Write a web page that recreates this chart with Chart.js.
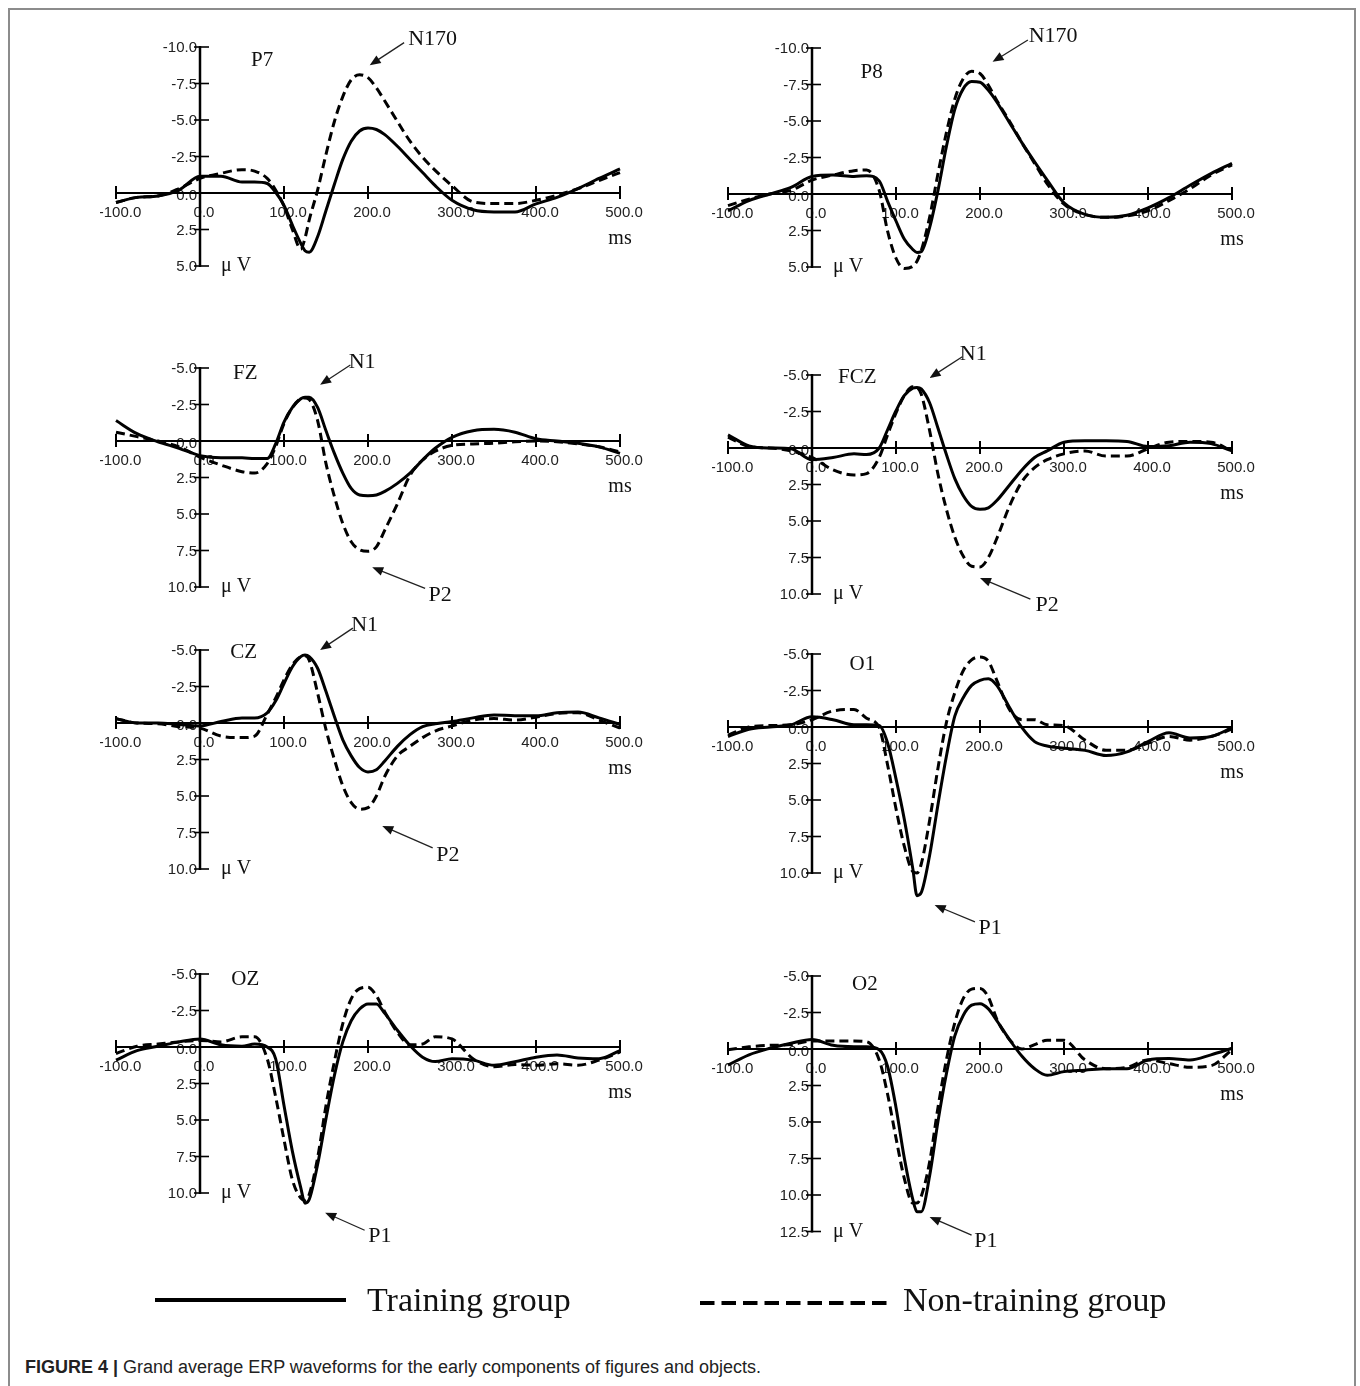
<!DOCTYPE html>
<html>
<head>
<meta charset="utf-8">
<title>Grand average ERP waveforms</title>
<script src="https://cdn.jsdelivr.net/npm/chart.js@4.4.1/dist/chart.umd.min.js"></script>
<style>
  html, body { margin: 0; padding: 0; background: #fff; }
  #page { position: relative; width: 1360px; height: 1386px; overflow: hidden; }
  #frame { position: absolute; left: 8px; top: 8px; width: 1348px; height: 1420px;
           border: 2px solid #8c8c8c; box-sizing: border-box; }
  .panel { position: absolute; }
  #legend { position: absolute; left: 0; top: 1270px; }
  #caption { position: absolute; left: 25px; top: 1357px; white-space: nowrap;
             font: 18px "Liberation Sans", Arial, sans-serif; color: #222; }
  #caption b { font-weight: bold; }
</style>
</head>
<body>
<div id="page">
  <div id="frame"></div>
  <canvas id="legend" width="1360" height="70"></canvas>
  <div id="caption"><b>FIGURE 4 |</b> Grand average ERP waveforms for the early components of figures and objects.</div>
</div>
<script>
/* Grand average ERP waveforms, 8 electrode sites, training vs non-training group.
 */

const TIMES_MS = [-100, -75, -50, -25, 0, 25, 50, 65, 80, 90, 100, 110, 120, 125, 130, 140, 150, 160, 170, 180,
  190, 200, 210, 220, 235, 250, 265, 280, 300, 325, 350, 375, 400, 425, 450, 475, 500];

const X_TICKS_MS = [-100, 0, 100, 200, 300, 400, 500];
const Y_TICK_STEP = 2.5;

const P7_TRAINING = [0.65, 0.3, 0.2, -0.2, -1.15, -1.15, -0.75, -0.75, -0.65, -0.05, 0.85, 2.2, 3.45, 3.95, 4.05, 3.0,
  1.2, -0.6, -2.3, -3.55, -4.25, -4.45, -4.35, -4.0, -3.2, -2.3, -1.4, -0.5, 0.5, 1.15, 1.3, 1.3, 0.75, 0.3, -0.3, -1.0, -1.65];
const P7_NONTRAINING = [0.65, 0.3, 0.2, -0.3, -1.0, -1.35, -1.6, -1.5, -1.0, -0.2, 0.9, 2.5, 3.85, 3.1, 1.85, -0.2,
  -2.65, -4.9, -6.6, -7.75, -8.1, -7.9, -7.2, -6.3, -4.9, -3.55, -2.45, -1.55, -0.5, 0.6, 0.72, 0.72, 0.5, 0.15, -0.3, -0.85, -1.4];

const P8_TRAINING = [1.15, 0.45, 0, -0.45, -1.2, -1.3, -1.2, -1.25, -0.9, 0.5, 1.85, 3.1, 3.8, 4.0, 3.95, 2.3,
  -0.25, -3.25, -5.8, -7.2, -7.7, -7.65, -7.1, -6.3, -4.9, -3.5, -2.2, -0.95, 0.6, 1.4, 1.6, 1.45, 0.95, 0.25, -0.6, -1.4, -2.1];
const P8_NONTRAINING = [0.8, 0.35, 0, -0.25, -0.95, -1.3, -1.6, -1.65, -0.25, 2.55, 4.4, 5.1, 4.95, 4.6, 3.9, 1.6,
  -1.4, -4.2, -6.5, -7.9, -8.4, -8.25, -7.45, -6.4, -5.0, -3.5, -2.1, -0.7, 0.7, 1.4, 1.6, 1.5, 1.15, 0.45, -0.35, -1.3, -2.0];

const FZ_TRAINING = [-1.4, -0.5, 0.05, 0.5, 1.0, 1.15, 1.15, 1.2, 1.2, 0.2, -1.3, -2.3, -2.9, -3.0, -3.0, -2.3,
  -0.7, 0.85, 2.2, 3.25, 3.7, 3.75, 3.7, 3.45, 2.9, 2.2, 1.3, 0.5, -0.25, -0.7, -0.8, -0.6, -0.15, 0, 0.15, 0.4, 0.85];
const FZ_NONTRAINING = [-0.6, -0.3, 0, 0.4, 1.1, 1.65, 2.1, 2.2, 1.55, 0.4, -1.2, -2.3, -2.9, -2.95, -2.85, -1.4,
  1.55, 3.8, 5.65, 6.9, 7.45, 7.55, 7.25, 6.1, 4.3, 2.35, 1.3, 0.7, 0.3, 0.2, 0.15, 0.05, 0, 0.05, 0.2, 0.4, 0.75];

const FCZ_TRAINING = [-0.9, -0.15, 0, 0.05, 0.8, 0.65, 0.4, 0.45, 0, -1.25, -2.55, -3.6, -4.1, -4.15, -4.05, -3.1,
  -1.35, 0.45, 2.1, 3.25, 4.0, 4.2, 4.1, 3.6, 2.55, 1.5, 0.65, 0.2, -0.4, -0.5, -0.5, -0.45, -0.1, -0.15, -0.4, -0.3, 0.2];
const FCZ_NONTRAINING = [-0.75, -0.1, 0, 0.2, 0.65, 1.5, 1.85, 1.75, 0.65, -0.9, -2.4, -3.6, -4.2, -4.15, -3.7, -1.2,
  1.8, 4.2, 6.1, 7.4, 8.1, 8.15, 7.5, 6.2, 4.0, 2.3, 1.35, 0.8, 0.4, 0.2, 0.55, 0.55, 0.05, -0.4, -0.45, -0.4, 0.2];

const CZ_TRAINING = [-0.3, 0, 0, 0.1, 0.2, -0.1, -0.35, -0.35, -0.7, -1.5, -2.7, -3.85, -4.55, -4.65, -4.55, -3.75,
  -2.15, -0.45, 1.15, 2.25, 3.05, 3.35, 3.2, 2.6, 1.6, 0.8, 0.25, 0.05, -0.1, -0.35, -0.55, -0.5, -0.5, -0.7, -0.75, -0.35, 0.1];
const CZ_NONTRAINING = [-0.3, 0, 0.05, 0.25, 0.35, 0.9, 1.0, 0.9, -0.6, -1.7, -2.95, -4.0, -4.55, -4.6, -4.3, -2.05,
  0.45, 2.5, 4.3, 5.45, 5.9, 5.8, 5.0, 3.65, 2.25, 1.6, 1.0, 0.55, 0.2, -0.2, -0.3, -0.2, -0.4, -0.65, -0.7, -0.2, 0.35];

const O1_TRAINING = [0.65, 0.15, 0, -0.15, -0.7, -0.5, -0.15, -0.15, -0.1, 1.1, 3.55, 6.35, 9.7, 11.55, 11.35, 8.8,
  5.3, 2.0, -0.75, -2.0, -2.85, -3.2, -3.3, -2.85, -1.35, 0.05, 1.0, 1.3, 1.45, 1.6, 1.95, 1.7, 1.0, 0.4, 0.75, 0.65, 0.05];
const O1_NONTRAINING = [0.55, 0, -0.1, -0.15, -0.5, -1.1, -1.2, -0.6, 0.05, 2.6, 5.6, 8.2, 9.9, 10.0, 9.4, 6.4,
  2.8, -0.3, -2.35, -3.85, -4.6, -4.8, -4.5, -3.2, -1.2, -0.5, -0.5, -0.15, -0.1, 0.9, 1.6, 1.6, 1.1, 0.65, 0.9, 0.65, 0.15];

const OZ_TRAINING = [0.9, 0.25, -0.05, -0.35, -0.55, -0.15, -0.05, -0.2, 0, 0.8, 4.0, 7.15, 9.65, 10.7, 10.45, 8.05,
  4.9, 1.95, -0.35, -1.8, -2.6, -2.95, -2.95, -2.3, -1.15, -0.1, 0.7, 1.0, 0.8, 0.9, 1.25, 1.0, 0.7, 0.55, 0.75, 0.8, 0.25];
const OZ_NONTRAINING = [0.45, -0.05, -0.2, -0.35, -0.45, -0.35, -0.7, -0.7, 0.8, 3.4, 6.35, 9.1, 10.35, 10.5, 10.1, 7.6,
  4.0, 1.0, -1.6, -3.3, -4.0, -4.1, -3.5, -2.4, -1.0, -0.15, -0.2, -0.7, -0.55, 0.8, 1.35, 1.2, 1.25, 1.15, 1.25, 0.9, 0.35];

const O2_TRAINING = [1.1, 0.4, -0.05, -0.4, -0.65, -0.25, -0.15, -0.15, 0.05, 1.2, 4.0, 7.5, 10.3, 11.15, 11.15, 8.7,
  4.95, 1.7, -0.9, -2.3, -3.0, -3.1, -2.75, -1.95, -0.65, 0.5, 1.35, 1.8, 1.55, 1.45, 1.35, 1.35, 0.75, 0.65, 0.75, 0.4, -0.05];
const O2_NONTRAINING = [0.05, -0.15, -0.25, -0.3, -0.55, -0.55, -0.55, -0.5, 0.75, 3.1, 6.1, 8.9, 10.55, 10.55, 10.1, 7.75,
  4.0, 0.75, -1.8, -3.45, -4.1, -4.15, -3.55, -2.05, -0.65, 0, -0.3, -0.6, -0.6, 0.75, 1.35, 1.25, 0.75, 1.0, 1.25, 1.15, 0.05];

// Component labels with arrows, in data units (ms, µV) of their panel.
const COMPONENT_LABELS = {
  P7:  [{ text: 'N170', at: [277, -10.55], from: [243, -10.3], to: [202, -8.75] }],
  P8:  [{ text: 'N170', at: [287, -10.8], from: [257, -10.55], to: [215, -9.05] }],
  FZ:  [{ text: 'N1', at: [193, -5.4], from: [179, -5.2], to: [143, -3.85] },
        { text: 'P2', at: [286, 10.55], from: [268, 10.1], to: [205, 8.65] }],
  FCZ: [{ text: 'N1', at: [192, -6.45], from: [179, -6.25], to: [140, -4.8] },
        { text: 'P2', at: [280, 10.8], from: [260, 10.35], to: [200, 8.9] }],
  CZ:  [{ text: 'N1', at: [196, -6.7], from: [182, -6.5], to: [143, -5.0] },
        { text: 'P2', at: [295, 9.05], from: [277, 8.55], to: [217, 7.05] }],
  O1:  [{ text: 'P1', at: [212, 13.75], from: [194, 13.35], to: [146, 12.2] }],
  OZ:  [{ text: 'P1', at: [214, 12.95], from: [196, 12.55], to: [149, 11.35] }],
  O2:  [{ text: 'P1', at: [207, 13.15], from: [190, 12.75], to: [140, 11.5] }],
};
// Where the site name sits (ms, µV).
const SITE_LABEL_AT = {
  P7: [74, -9.1], P8: [71, -8.35], FZ: [54, -4.6], FCZ: [54, -4.8],
  CZ: [52, -4.8], O1: [60, -4.3], OZ: [54, -4.6], O2: [63, -4.45],
};

const PANELS = [
  { name: 'P7',  yRange: [-10, 5],   training: P7_TRAINING,  nonTraining: P7_NONTRAINING },
  { name: 'P8',  yRange: [-10, 5],   training: P8_TRAINING,  nonTraining: P8_NONTRAINING },
  { name: 'FZ',  yRange: [-5, 10],   training: FZ_TRAINING,  nonTraining: FZ_NONTRAINING },
  { name: 'FCZ', yRange: [-5, 10],   training: FCZ_TRAINING, nonTraining: FCZ_NONTRAINING },
  { name: 'CZ',  yRange: [-5, 10],   training: CZ_TRAINING,  nonTraining: CZ_NONTRAINING },
  { name: 'O1',  yRange: [-5, 10],   training: O1_TRAINING,  nonTraining: O1_NONTRAINING },
  { name: 'OZ',  yRange: [-5, 10],   training: OZ_TRAINING,  nonTraining: OZ_NONTRAINING },
  { name: 'O2',  yRange: [-5, 12.5], training: O2_TRAINING,  nonTraining: O2_NONTRAINING },
];

// Page layout (pixels)
const COLUMNS = [
  { left: 100, width: 560, xStart: 116, xEnd: 620 },
  { left: 712, width: 560, xStart: 728, xEnd: 1232 },
];
const PANEL_LAYOUT = {
  P7:  { col: 0, top: 15,  height: 290, zeroY: 193 },
  P8:  { col: 1, top: 15,  height: 290, zeroY: 194 },
  FZ:  { col: 0, top: 340, height: 280, zeroY: 441 },
  FCZ: { col: 1, top: 335, height: 295, zeroY: 448 },
  CZ:  { col: 0, top: 605, height: 280, zeroY: 723 },
  O1:  { col: 1, top: 640, height: 310, zeroY: 727 },
  OZ:  { col: 0, top: 955, height: 305, zeroY: 1047 },
  O2:  { col: 1, top: 955, height: 310, zeroY: 1049 },
};
const PX_PER_UV = 14.6;

const TICK_FONT = '15px "Liberation Sans", Arial, sans-serif';
const SERIF = '"Liberation Serif", "Times New Roman", serif';
const INK = '#111';

function drawArrow(ctx, x1, y1, x2, y2) {
  const ang = Math.atan2(y2 - y1, x2 - x1);
  const len = 11, half = 4.5;
  ctx.beginPath();
  ctx.moveTo(x1, y1);
  ctx.lineTo(x2 - Math.cos(ang) * len * 0.8, y2 - Math.sin(ang) * len * 0.8);
  ctx.stroke();
  ctx.beginPath();
  ctx.moveTo(x2, y2);
  ctx.lineTo(x2 - Math.cos(ang) * len + Math.sin(ang) * half, y2 - Math.sin(ang) * len - Math.cos(ang) * half);
  ctx.lineTo(x2 - Math.cos(ang) * len - Math.sin(ang) * half, y2 - Math.sin(ang) * len + Math.cos(ang) * half);
  ctx.closePath();
  ctx.fill();
}

function makeAxesPlugin(panel) {
  return {
    id: 'erpAxes',
    beforeDatasetsDraw(chart) {
      const { ctx, scales: { x, y } } = chart;
      const ax = x.getPixelForValue(0);
      const ay = y.getPixelForValue(0);
      ctx.save();
      // tick labels first, axes drawn over them
      ctx.fillStyle = '#222';
      ctx.font = TICK_FONT;
      ctx.textBaseline = 'middle';
      ctx.textAlign = 'right';
      for (let v = y.min; v <= y.max + 1e-6; v += Y_TICK_STEP) {
        const dy = v === 0 ? 3 : 1;
        ctx.fillText(v.toFixed(1), ax - 3, y.getPixelForValue(v) + dy);
      }
      ctx.textAlign = 'center';
      X_TICKS_MS.forEach((t) => {
        ctx.fillText(t.toFixed(1), x.getPixelForValue(t) + 4, ay + 20);
      });

      ctx.strokeStyle = '#000';
      ctx.lineWidth = 2;
      ctx.beginPath();
      ctx.moveTo(x.getPixelForValue(X_TICKS_MS[0]), ay);
      ctx.lineTo(x.getPixelForValue(X_TICKS_MS[X_TICKS_MS.length - 1]), ay);
      ctx.stroke();
      X_TICKS_MS.forEach((t) => {
        if (t === 0) return;
        const px = x.getPixelForValue(t);
        ctx.beginPath();
        ctx.moveTo(px, ay - 7);
        ctx.lineTo(px, ay + 6);
        ctx.stroke();
      });
      ctx.lineWidth = 2.5;
      ctx.beginPath();
      ctx.moveTo(ax, y.getPixelForValue(y.min) - 1);
      ctx.lineTo(ax, y.getPixelForValue(y.max) + 1);
      ctx.stroke();
      ctx.lineWidth = 1.6;
      for (let v = y.min; v <= y.max + 1e-6; v += Y_TICK_STEP) {
        const py = y.getPixelForValue(v);
        ctx.beginPath();
        ctx.moveTo(ax - 6, py);
        ctx.lineTo(ax + 9, py);
        ctx.stroke();
      }
      ctx.restore();
    },
    afterDatasetsDraw(chart) {
      const { ctx, scales: { x, y } } = chart;
      ctx.save();
      ctx.fillStyle = INK;
      ctx.strokeStyle = '#222';
      ctx.textBaseline = 'middle';

      // site name
      const site = SITE_LABEL_AT[panel.name];
      ctx.font = '21px ' + SERIF;
      ctx.textAlign = 'center';
      ctx.fillText(panel.name, x.getPixelForValue(site[0]), y.getPixelForValue(site[1]));

      // units
      ctx.font = '20px ' + SERIF;
      ctx.fillText('ms', x.getPixelForValue(500), y.getPixelForValue(3.1));
      ctx.textAlign = 'left';
      ctx.fillText('\u03BC V', x.getPixelForValue(25), y.getPixelForValue(y.max));

      // component labels
      ctx.font = '22px ' + SERIF;
      ctx.textAlign = 'center';
      ctx.lineWidth = 1.3;
      (COMPONENT_LABELS[panel.name] || []).forEach((c) => {
        ctx.fillText(c.text, x.getPixelForValue(c.at[0]), y.getPixelForValue(c.at[1]));
        drawArrow(ctx,
          x.getPixelForValue(c.from[0]), y.getPixelForValue(c.from[1]),
          x.getPixelForValue(c.to[0]), y.getPixelForValue(c.to[1]));
      });
      ctx.restore();
    },
  };
}

function toPoints(values) {
  return TIMES_MS.map((t, i) => ({ x: t, y: values[i] }));
}

function createPanel(panel) {
  const lay = PANEL_LAYOUT[panel.name];
  const col = COLUMNS[lay.col];
  const [yMin, yMax] = panel.yRange;
  const yTopPx = lay.zeroY + yMin * PX_PER_UV;
  const yBotPx = lay.zeroY + yMax * PX_PER_UV;

  const canvas = document.createElement('canvas');
  canvas.className = 'panel';
  canvas.width = col.width;
  canvas.height = lay.height;
  canvas.style.left = col.left + 'px';
  canvas.style.top = lay.top + 'px';
  document.getElementById('page').appendChild(canvas);

  const lineStyle = {
    borderColor: '#000',
    borderWidth: 3,
    pointRadius: 0,
    cubicInterpolationMode: 'monotone',
    clip: false,
    fill: false,
  };

  return new Chart(canvas, {
    type: 'line',
    data: {
      datasets: [
        { label: 'Training group', data: toPoints(panel.training), ...lineStyle },
        { label: 'Non-training group', data: toPoints(panel.nonTraining), ...lineStyle, borderDash: [9, 5] },
      ],
    },
    options: {
      responsive: false,
      animation: false,
      devicePixelRatio: 1,
      events: [],
      layout: {
        padding: {
          left: col.xStart - col.left,
          right: col.left + col.width - col.xEnd,
          top: yTopPx - lay.top,
          bottom: lay.top + lay.height - yBotPx,
        },
      },
      plugins: { legend: { display: false }, tooltip: { enabled: false } },
      scales: {
        x: { type: 'linear', min: X_TICKS_MS[0], max: X_TICKS_MS[X_TICKS_MS.length - 1], display: false },
        y: { type: 'linear', min: yMin, max: yMax, reverse: true, display: false },
      },
    },
    plugins: [makeAxesPlugin(panel)],
  });
}

PANELS.forEach(createPanel);

// shared legend under the panels
(function drawLegend() {
  const ctx = document.getElementById('legend').getContext('2d');
  ctx.strokeStyle = '#000';
  ctx.lineWidth = 4;
  ctx.beginPath();
  ctx.moveTo(155, 30);
  ctx.lineTo(346, 30);
  ctx.stroke();
  ctx.setLineDash([14.5, 7]);
  ctx.beginPath();
  ctx.moveTo(700, 33);
  ctx.lineTo(891, 33);
  ctx.stroke();
  ctx.setLineDash([]);
  ctx.fillStyle = '#111';
  ctx.font = '34px ' + SERIF;
  ctx.textBaseline = 'middle';
  ctx.fillText('Training group', 367, 32);
  ctx.fillText('Non-training group', 903, 32);
})();
</script>
</body>
</html>
